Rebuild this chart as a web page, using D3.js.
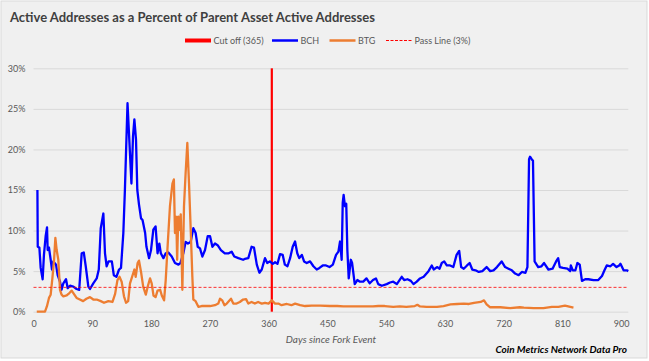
<!DOCTYPE html>
<html>
<head>
<meta charset="utf-8">
<script src="https://cdn.jsdelivr.net/npm/d3@7"></script>
<style>
  html, body { margin: 0; padding: 0; background: #ffffff; }
  svg text { font-family: Lato, "Open Sans", sans-serif; }
</style>
</head>
<body>
<svg id="chart" width="649" height="361"></svg>
<script>
// data (day since fork, % of parent active addresses)
var bchDays = [6,6.5,9,11,14,16,18.6,20.7,21.7,23.7,26.3,28.3,30.4,34.5,37,40.6,43,45.7,49.8,52.4,56,61,66,70,73.8,77,80,84,86.5,91.6,96.8,100,103,107,109.5,112,115,120,123,127,131,134,137.6,140,144,148,150,152.4,154.5,157,159,161.6,164.7,167,171,173,177,180,183.5,187,190,192.7,195,199,202.5,206.5,211.7,216.7,222,225,229.5,233,236.5,240.7,244.8,248.3,251.5,255,258.6,262.7,266.8,270.4,274,278,282,287,293,299,303.5,307.5,313.8,321,323.6,329,334,337.7,342,346,349.6,354.6,358,362,366.5,370,373.7,377.6,381.7,385,389,393,397,400.6,404,407,411,414.4,418.5,423.6,428.7,433.8,438,443,448,453.4,458.5,463.4,467,469.5,472,473.6,475,477,479,480.7,482.8,486,488,492,496,500,505,510,515,520,524.5,528,533.5,541,546,551,556.5,564,567.7,572.8,578,582,587,592,597.6,605,610,613,618,622,625.3,629,633,638,643,648,652,655,659,664,668,672,677,682,687.5,694,699.5,704.6,709.8,717,722.3,727.5,732.6,737.7,743,748,753.4,756.5,759,760.5,763,765,767.5,773,778,782,788.6,795,800.4,803.6,806,811,817.7,822,823,826,830,833,836.6,840,845,850,857.8,865,870.7,874.5,878,883.6,887.7,893,897,899,903.8,908.7,911];
var bchPct = [15,8,7.9,5.4,4,7,9.3,10.4,7.6,7.9,6.4,5.2,6.2,5.8,4.5,3.7,2.7,3.5,4,2.9,3.2,3.1,2.8,2.7,7.2,7.3,5.6,3.1,2.8,3.5,4.1,5.2,10.3,12.1,7.2,5.6,6.2,6.2,4.5,4.3,5.2,5.4,9.7,15,25.7,19.1,15.8,21.6,23.7,21.2,15,13.2,11.5,11.3,9.7,8,6.6,7.6,10.1,10.5,7.2,8.4,7.2,6.6,7.2,7.3,6.8,6,5.8,6,7.2,8.6,8.4,8.6,10.3,9.7,8,7.8,6.8,7.6,9.3,9.3,8,8.4,8.2,7.6,7.2,7.2,7.4,6.8,6.6,6.4,6.5,6.6,8,7.9,5.8,4.8,5.2,6.6,6,6.2,5.9,6.1,5.9,7.1,7,5.8,5.6,6.6,8,8.65,7.2,6.6,7,6.2,6,6.2,5.6,5.2,5.4,5.7,5.7,5.5,5.8,7,7.4,8.65,6.4,13.4,14.4,13,13.3,7.6,4.1,6.4,6,3.4,3.9,3.7,3.7,4.1,3.5,3.9,4.1,3.4,3.2,3.4,3.6,3.7,3.4,4.3,3.9,4,3.8,3.4,3.7,4.1,4.3,5,5.7,5.2,5.5,5.3,6,6.2,5.7,5.7,5.5,7,7.5,5.5,5.3,5.7,6,5.2,5.1,4.9,5,5.5,5,5.1,5.5,6.2,5.5,5.3,5.1,4.7,4.5,4.9,4.8,5.5,18.8,19.1,18.8,18.6,6.2,5.5,5.6,6,5.2,5.3,6.2,6.6,5.5,5.4,5.3,5,5.7,5.1,5.1,6,5.8,3.8,4,4,3.9,3.9,4.4,5.1,5.7,5.6,5.9,5.5,5.7,5.9,5.1,5.1,5];

var btgDays = [5,17.6,20.5,23.7,26.3,28.9,31.5,33.5,35.5,38,40.6,43,45.7,50.8,55,58.5,62.6,66,71,76,81,86.5,91.6,96.8,103,108,114.6,121,125,128.6,131.7,135,138.6,141.7,145,147.8,151,154.5,156.5,159.5,161.6,164.7,168,172,175,178.5,181,183.8,187,190,194,196.5,200,202.5,205.5,209,212.8,215,216.7,218.7,220,221.8,223.4,225.5,228,230.5,233,235.6,238.2,240.8,243.3,244.8,248.3,252.5,257.6,262.7,270.4,278,283,285.7,289,292.5,296,302.5,306,311,316,321,325.5,329,334,339,344,349.6,354.6,360,365,370,375,380,388,395,400.7,408.4,416,426,439,454,465,474.6,485,500,520,528,538,551,561,571,584,588,592,602,618,628,638.6,648.8,659,667,674.7,685,690,694,699,715,730,745,751,766,781,794,804,814,819,827];
var btgPct = [0,0,0.65,1.7,2.1,4.1,6.4,9.1,7.6,6.4,2.7,2.1,1.9,2,2.3,2.6,2.1,1.7,1.5,1.3,1.6,1.8,1.5,1.5,1.3,1.1,1.3,1.2,2.2,3.9,4.3,3.7,1.9,1.1,1.3,3.5,4.3,5.2,4.3,6,6.3,4.9,3.1,2.1,3.1,4.1,3.5,2,1.8,2.6,2.7,2,1.4,3.9,8.2,13,15.8,16.3,9.7,11.7,6.4,11.7,10.1,12,2.7,13,17.1,20.8,15.8,10.1,4.3,1.5,1.3,0.6,0.7,0.7,0.7,0.8,1,1.6,1.4,0.8,1,1.6,1,1,1.2,1.5,1.55,1,1.2,1,1.2,1,1.1,1,1.4,1,1,0.8,0.95,0.8,1,0.8,0.7,0.75,0.75,0.7,0.7,0.65,0.65,0.65,0.65,0.7,0.7,0.6,0.65,0.6,0.7,0.85,0.65,0.6,0.6,0.7,0.9,0.95,1,0.95,1.1,1.2,1.4,0.9,0.55,0.55,0.45,0.55,0.5,0.45,0.45,0.6,0.6,0.75,0.65,0.5];

var cutOffDay = 365;
var passLine = 3;
var yTicks = [0, 5, 10, 15, 20, 25, 30];
var xTicks = [0, 90, 180, 270, 360, 450, 540, 630, 720, 810, 900];
var legendLabels = ["Cut off (365)", "BCH", "BTG", "Pass Line (3%)"];

var bch = bchDays.map(function(d, i) { return {day: d, v: bchPct[i]}; });
var btg = btgDays.map(function(d, i) { return {day: d, v: btgPct[i]}; });

var svg = d3.select("#chart");

svg.append("rect")
  .attr("x", 1).attr("y", 1)
  .attr("width", 646).attr("height", 357)
  .attr("fill", "#f0f0f0")
  .attr("stroke", "#d9d9d9");

var x = d3.scaleLinear().domain([0, 911]).range([33.5, 628.3]);
var y = d3.scaleLinear().domain([0, 30]).range([311.7, 68.3]);

// title, squeezed to the width of the original
var title = svg.append("text")
  .attr("x", 10).attr("y", 22)
  .attr("fill", "#404040")
  .attr("font-weight", "bold")
  .attr("font-size", "14px")
  .text("Active Addresses as a Percent of Parent Asset Active Addresses");
var tw = title.node().getComputedTextLength();
title.attr("font-size", (14 * 365 / tw).toFixed(2) + "px");

// grid + y axis
var yAxis = d3.axisLeft(y).tickValues(yTicks)
  .tickSize(-(628.3 - 33.5))
  .tickFormat(function(d) { return d + "%"; });
var gy = svg.append("g").attr("transform", "translate(33.5,0)").call(yAxis);
gy.select(".domain").remove();
gy.selectAll(".tick line").attr("stroke", "#d9d9d9").attr("stroke-width", 1);
gy.selectAll(".tick text")
  .attr("x", -8)
  .attr("fill", "#595959")
  .attr("font-size", "9px")
  .style("font-family", "Lato, sans-serif");

// x axis (labels only)
var xAxis = d3.axisBottom(x).tickValues(xTicks).tickSize(0).tickPadding(9);
var gx = svg.append("g").attr("transform", "translate(0,311.7)").call(xAxis);
gx.select(".domain").remove();
gx.selectAll(".tick text")
  .attr("fill", "#595959")
  .attr("font-size", "9px")
  .style("font-family", "Lato, sans-serif");

// cut off line
svg.append("line")
  .attr("x1", x(cutOffDay)).attr("x2", x(cutOffDay))
  .attr("y1", y(30)).attr("y2", y(0))
  .attr("stroke", "#ff0000")
  .attr("stroke-width", 2.2);

var line = d3.line()
  .x(function(d) { return x(d.day); })
  .y(function(d) { return y(d.v); });

svg.append("path")
  .datum(bch)
  .attr("d", line)
  .attr("fill", "none")
  .attr("stroke", "#0000ff")
  .attr("stroke-width", 2.3)
  .attr("stroke-linejoin", "round");

svg.append("path")
  .datum(btg)
  .attr("d", line)
  .attr("fill", "none")
  .attr("stroke", "#ed7d31")
  .attr("stroke-width", 2.3)
  .attr("stroke-linejoin", "round");

// pass line 3%
svg.append("line")
  .attr("x1", x(0)).attr("x2", x(911))
  .attr("y1", y(passLine)).attr("y2", y(passLine))
  .attr("stroke", "#ff0000")
  .attr("stroke-width", 0.8)
  .attr("stroke-dasharray", "3,2");

// legend
var legX = [185, 272, 329.5, 386];
var legStroke = ["#ff0000", "#0000ff", "#ed7d31", "#ff0000"];
var legWidth = [4, 2.5, 2.5, 1];
var legDash = [null, null, null, "3,1.5"];
var leg = svg.append("g");
legendLabels.forEach(function(lbl, i) {
  leg.append("line")
    .attr("x1", legX[i]).attr("x2", legX[i] + 26)
    .attr("y1", 40.5).attr("y2", 40.5)
    .attr("stroke", legStroke[i])
    .attr("stroke-width", legWidth[i])
    .attr("stroke-dasharray", legDash[i]);
  leg.append("text")
    .attr("x", legX[i] + 28.5).attr("y", 43.8)
    .attr("fill", "#595959")
    .attr("font-size", "9px")
    .text(lbl);
});

svg.append("text")
  .attr("x", 331).attr("y", 343)
  .attr("text-anchor", "middle")
  .attr("fill", "#595959")
  .attr("font-size", "10px")
  .attr("font-style", "italic")
  .text("Days since Fork Event");

svg.append("text")
  .attr("x", 627).attr("y", 353)
  .attr("text-anchor", "end")
  .attr("fill", "#000000")
  .attr("font-size", "10px")
  .attr("font-style", "italic")
  .attr("font-weight", "bold")
  .text("Coin Metrics Network Data Pro");
</script>
</body>
</html>
